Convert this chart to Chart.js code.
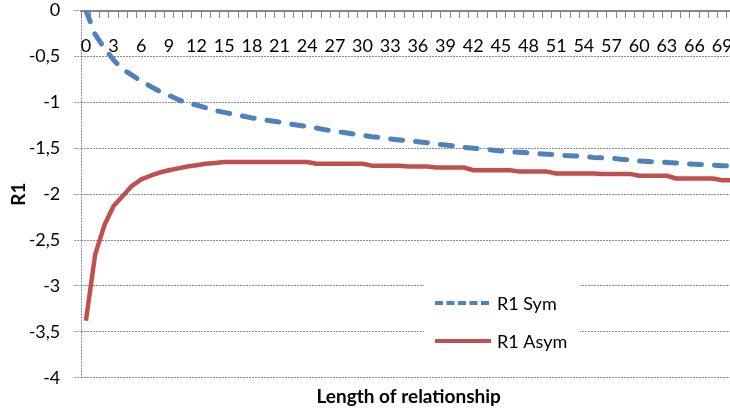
<!DOCTYPE html>
<html>
<head>
<meta charset="utf-8">
<script src="https://cdn.jsdelivr.net/npm/chart.js@4.4.1/dist/chart.umd.min.js"></script>
<style>
  html, body { margin: 0; padding: 0; background: #fff; overflow: hidden; width: 730px; height: 412px; }
  #wrap { position: absolute; left: 0; top: 0; width: 740px; height: 412px; }
</style>
</head>
<body>
<div id="wrap"><canvas id="chart"></canvas></div>
<script>
// Length of relationship (categories)
const lengths = ['0','1','2','3','4','5','6','7','8','9','10','11','12','13','14','15','16','17','18','19',
  '20','21','22','23','24','25','26','27','28','29','30','31','32','33','34','35','36','37','38','39',
  '40','41','42','43','44','45','46','47','48','49','50','51','52','53','54','55','56','57','58','59',
  '60','61','62','63','64','65','66','67','68','69','70'];

// R1, symmetric model
const r1Sym = [0, -0.26, -0.41, -0.54, -0.64, -0.705, -0.77, -0.826, -0.88, -0.925,
  -0.97, -1.01, -1.03, -1.06, -1.09, -1.11, -1.13, -1.15, -1.17, -1.185,
  -1.2, -1.215, -1.235, -1.25, -1.265, -1.28, -1.3, -1.315, -1.33, -1.345,
  -1.36, -1.375, -1.385, -1.4, -1.41, -1.42, -1.43, -1.44, -1.455, -1.465,
  -1.475, -1.49, -1.5, -1.51, -1.52, -1.53, -1.54, -1.545, -1.55, -1.56,
  -1.565, -1.57, -1.58, -1.585, -1.59, -1.6, -1.605, -1.61, -1.62, -1.63,
  -1.64, -1.645, -1.65, -1.655, -1.66, -1.67, -1.675, -1.68, -1.685, -1.69, -1.695];

// R1, asymmetric model
const r1Asym = [-3.38, -2.66, -2.34, -2.13, -2.02, -1.91, -1.84, -1.8, -1.765, -1.74,
  -1.72, -1.7, -1.685, -1.67, -1.66, -1.65, -1.65, -1.65, -1.65, -1.65,
  -1.65, -1.65, -1.65, -1.65, -1.65, -1.67, -1.67, -1.67, -1.67, -1.67,
  -1.67, -1.69, -1.69, -1.69, -1.69, -1.7, -1.7, -1.7, -1.71, -1.71,
  -1.71, -1.71, -1.74, -1.74, -1.74, -1.74, -1.74, -1.755, -1.755, -1.755,
  -1.755, -1.775, -1.775, -1.775, -1.775, -1.775, -1.78, -1.78, -1.78, -1.78,
  -1.8, -1.8, -1.8, -1.8, -1.83, -1.83, -1.83, -1.83, -1.83, -1.85, -1.85];

const seriesNames = ['R1 Sym', 'R1 Asym'];
const yTicksMin = -4, yTicksMax = 0, yTicksStep = 0.5;

const AXIS_GREY = '#868686';
const GRID_GREY = '#8e8e8e';

Chart.defaults.font.family = 'Lato';
Chart.defaults.font.size = 18;
Chart.defaults.color = '#000';

// Legend drawn inside the plot on a white panel
const insideLegend = {
  id: 'insideLegend',
  afterDatasetsDraw(chart) {
    const ctx = chart.ctx;
    ctx.save();
    ctx.fillStyle = '#fff';
    ctx.fillRect(424, 268, 156, 98);
    const rows = [303, 341];
    chart.data.datasets.forEach((ds, i) => {
      const y = rows[i];
      ctx.beginPath();
      ctx.strokeStyle = ds.borderColor;
      ctx.lineWidth = 4;
      ctx.lineCap = 'butt';
      ctx.setLineDash(ds.borderDash && ds.borderDash.length ? [8, 3.5] : []);
      ctx.moveTo(435, y);
      ctx.lineTo(491, y);
      ctx.stroke();
      ctx.setLineDash([]);
      ctx.fillStyle = '#000';
      ctx.font = '18px Lato';
      ctx.textAlign = 'left';
      ctx.textBaseline = 'middle';
      ctx.fillText(ds.label, 497, y + 1);
    });
    ctx.restore();
  }
};

new Chart(document.getElementById('chart'), {
  type: 'line',
  data: {
    labels: lengths,
    datasets: [
      {
        label: seriesNames[0],
        data: r1Sym,
        borderColor: '#4F81BD',
        backgroundColor: '#4F81BD',
        borderWidth: 5,
        borderDash: [12, 13],
        borderCapStyle: 'round',
        borderJoinStyle: 'round',
        pointRadius: 0,
        tension: 0,
        fill: false
      },
      {
        label: seriesNames[1],
        data: r1Asym,
        borderColor: '#C0504D',
        backgroundColor: '#C0504D',
        borderWidth: 4.5,
        borderJoinStyle: 'round',
        pointRadius: 0,
        tension: 0,
        fill: false
      }
    ]
  },
  options: {
    responsive: true,
    maintainAspectRatio: false,
    animation: false,
    layout: { padding: { top: 10.5, left: 0, right: 4, bottom: 0 } },
    plugins: {
      legend: { display: false },
      tooltip: { enabled: false }
    },
    scales: {
      x: {
        type: 'category',
        position: { y: 0 },
        offset: true,
        grid: {
          display: true,
          offset: true,
          drawOnChartArea: true,
          drawTicks: true,
          tickLength: 6,
          tickColor: AXIS_GREY,
          tickWidth: 1,
          color: (c) => (c.index === 0 ? GRID_GREY : 'rgba(0,0,0,0)'),
          lineWidth: 1
        },
        border: { display: true, color: AXIS_GREY, width: 2, dash: [2, 1] },
        ticks: {
          autoSkip: false,
          maxRotation: 0,
          minRotation: 0,
          padding: 19,
          font: { size: 18 },
          callback: function (value, index) {
            return index % 3 === 0 ? this.getLabelForValue(value) : '';
          }
        },
        afterFit: (s) => { s.paddingLeft = 0; s.paddingRight = 0; }
      },
      xTitle: {
        type: 'category',
        position: 'bottom',
        display: true,
        grid: { display: false, drawTicks: false, tickLength: 0 },
        border: { display: false },
        ticks: { display: false },
        title: {
          display: true,
          text: 'Length of relationship',
          font: { size: 19, weight: 'bold' },
          padding: { top: 7, bottom: 3.5 }
        },
        afterFit: (s) => { s.height = 34.3; s.paddingLeft = 0; s.paddingRight = 0; }
      },
      y: {
        type: 'linear',
        min: yTicksMin,
        max: yTicksMax,
        ticks: {
          stepSize: yTicksStep,
          padding: 14,
          font: { size: 18 },
          callback: (v) => String(v).replace('.', ',')
        },
        grid: {
          color: GRID_GREY,
          lineWidth: 1,
          tickLength: 7,
          tickColor: GRID_GREY,
          tickBorderDash: [2, 1]
        },
        border: { display: false, dash: [2, 1] },
        title: {
          display: true,
          text: 'R1',
          font: { size: 19, weight: 'bold' },
          padding: { top: 7.3, bottom: 0 }
        },
        afterFit: (s) => { s.width = 81.3; s.paddingTop = 0; s.paddingBottom = 0; }
      }
    }
  },
  plugins: [insideLegend]
});
</script>
</body>
</html>
